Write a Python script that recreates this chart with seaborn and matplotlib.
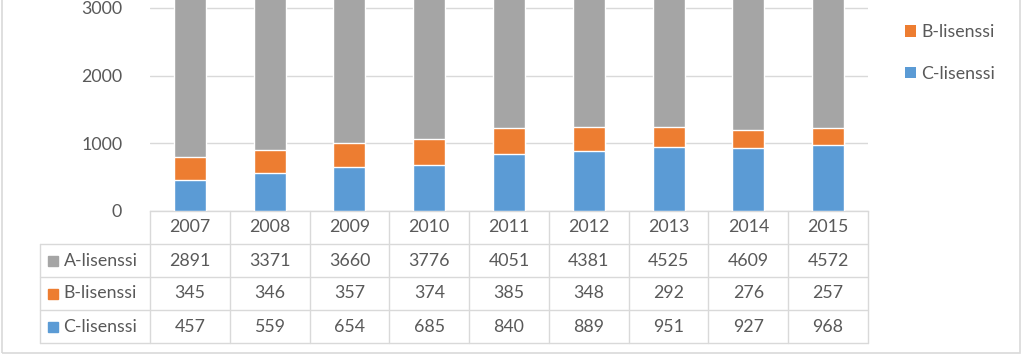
import matplotlib
matplotlib.use("Agg")
import matplotlib.pyplot as plt
from matplotlib.patches import Patch, Rectangle
import seaborn as sns

# --- Data ---
years = ["2007", "2008", "2009", "2010", "2011", "2012", "2013", "2014", "2015"]
a_lisenssi = [2891, 3371, 3660, 3776, 4051, 4381, 4525, 4609, 4572]
b_lisenssi = [345, 346, 357, 374, 385, 348, 292, 276, 257]
c_lisenssi = [457, 559, 654, 685, 840, 889, 951, 927, 968]
series_names = ["A-lisenssi", "B-lisenssi", "C-lisenssi"]

# --- Style ---
COL_A, COL_B, COL_C = "#A5A5A5", "#ED7D31", "#5B9BD5"
TXT = "#595959"
LINE = "#D9D9D9"
FS = 12.8

sns.set_theme(style="white")
plt.rcParams["font.family"] = ["Lato", "DejaVu Sans"]

W, H = 1023, 356
def fx(px): return px / W
def fy(py): return 1 - py / H

fig = plt.figure(figsize=(W / 100, H / 100), dpi=100)
fig.patch.set_facecolor("white")

# outer chart border
fig.add_artist(Rectangle((fx(2), fy(353)), fx(1020) - fx(2), fy(-5) - fy(353),
                         transform=fig.transFigure, fill=False, edgecolor=LINE, lw=1.2))

# --- Bars (stacked via cumulative totals) ---
ax = fig.add_axes([fx(150), fy(211), fx(868) - fx(150), fy(0) - fy(211)])
tot_abc = [a + b + c for a, b, c in zip(a_lisenssi, b_lisenssi, c_lisenssi)]
tot_bc = [b + c for b, c in zip(b_lisenssi, c_lisenssi)]
sns.barplot(x=years, y=tot_abc, color=COL_A, width=0.4, saturation=1, ax=ax, zorder=3)
sns.barplot(x=years, y=tot_bc, color=COL_B, width=0.4, saturation=1, ax=ax, zorder=3)
sns.barplot(x=years, y=c_lisenssi, color=COL_C, width=0.4, saturation=1, ax=ax, zorder=3)

ax.set_xlim(-0.5, len(years) - 0.5)
ax.set_ylim(0, 3118)
ax.set_yticks([0, 1000, 2000, 3000])
ax.yaxis.grid(True, color=LINE, lw=1)
ax.set_axisbelow(True)
ax.tick_params(axis="y", length=0, pad=20, labelsize=FS, labelcolor=TXT)
ax.set_xticks([])
ax.set_xlabel("")
ax.set_ylabel("")
for s in ["top", "right", "left"]:
    ax.spines[s].set_visible(False)
ax.spines["bottom"].set_color(LINE)
ax.spines["bottom"].set_linewidth(1)

# --- Data table below the axis ---
tab = fig.add_axes([fx(150), fy(343), fx(868) - fx(150), fy(211) - fy(343)])
tab.set_xlim(-0.5, len(years) - 0.5)
tab.set_ylim(4, 0)
tab.axis("off")
col_px = (868 - 150) / len(years)
left_edge = -0.5 + (40 - 150) / col_px
for r in range(1, 5):
    tab.plot([left_edge, len(years) - 0.5], [r, r], color=LINE, lw=1, clip_on=False)
for i in range(len(years) + 1):
    tab.plot([i - 0.5, i - 0.5], [0, 4], color=LINE, lw=1, clip_on=False)
tab.plot([left_edge, left_edge], [1, 4], color=LINE, lw=1, clip_on=False)

for i, yr in enumerate(years):
    tab.text(i, 0.5, yr, ha="center", va="center", fontsize=FS, color=TXT)
rows = [a_lisenssi, b_lisenssi, c_lisenssi]
cols = [COL_A, COL_B, COL_C]
mark_x = -0.5 + (53 - 150) / col_px
text_x = -0.5 + (63.5 - 150) / col_px
for r, (name, vals, col) in enumerate(zip(series_names, rows, cols), start=1):
    tab.plot(mark_x, r + 0.5, marker="s", ms=7.5, color=col, clip_on=False)
    tab.text(text_x, r + 0.5, name, ha="left", va="center", fontsize=FS, color=TXT)
    for i, v in enumerate(vals):
        tab.text(i, r + 0.5, str(v), ha="center", va="center", fontsize=FS, color=TXT)

# --- Legend (A entry sits above the cropped top edge, so only B and C show) ---
handles = [Patch(facecolor=c, edgecolor="none") for c in cols[1:]]
fig.legend(handles, series_names[1:], loc="center left", bbox_to_anchor=(fx(896), fy(53)),
           frameon=False, fontsize=FS, labelcolor=TXT, borderpad=0,
           handlelength=0.6, handleheight=0.6, handletextpad=0.3, labelspacing=1.43)

fig.savefig("out.png", dpi=100, facecolor="white")
